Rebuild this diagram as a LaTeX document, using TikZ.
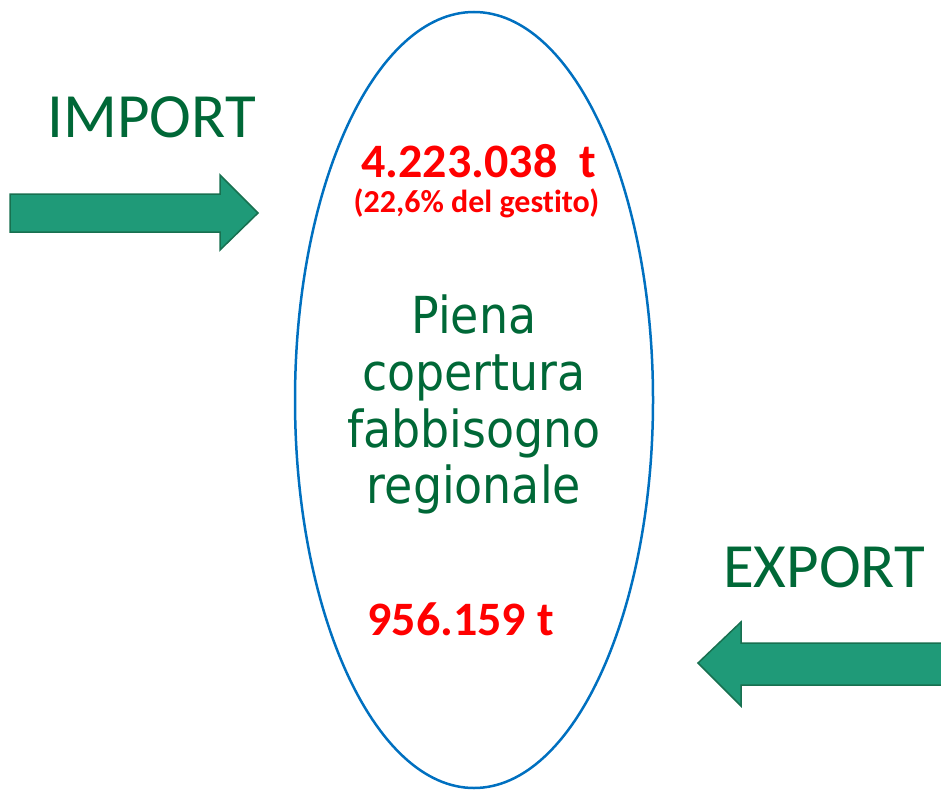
\documentclass[tikz,border=0pt]{standalone}
\usepackage{fontspec}
\setmainfont[Ligatures=NoCommon]{Carlito}
\newfontfamily\coverfont{DejaVu Sans Condensed}
\definecolor{flowgreen}{RGB}{31,154,120}
\definecolor{flowedge}{RGB}{24,112,80}
\definecolor{labelgreen}{RGB}{0,104,55}
\definecolor{ovalblue}{RGB}{0,112,192}
\tikzset{
  flowarrow/.style={fill=flowgreen,draw=flowedge,line width=1.5pt,line join=miter},
  flowlabel/.style={anchor=base,inner sep=0pt,text=labelgreen,font=\fontsize{63}{63}\selectfont},
  amount/.style={anchor=base,inner sep=0pt,text=red,font=\bfseries\fontsize{48}{48}\selectfont},
  share/.style={anchor=base,inner sep=0pt,text=red,font=\bfseries\fontsize{32}{32}\selectfont},
  coverline/.style={anchor=base,inner sep=0pt,text=labelgreen,font=\coverfont\fontsize{51}{51}\selectfont}
}
\begin{document}
\begin{tikzpicture}[x=1pt,y=-1pt]
\useasboundingbox (0,0) rectangle (941,789);
% oval
\draw[ovalblue,line width=2.5pt] (474,400) ellipse [x radius=179,y radius=388];
% import arrow
\draw[flowarrow] (10,194) -- (220,194) -- (220,175) -- (258,213) -- (220,250) -- (220,232) -- (10,232) -- cycle;
% export arrow
\draw[flowarrow] (942,643) -- (741,643) -- (741,622) -- (698,663) -- (741,706) -- (741,685) -- (942,685);
\node[flowlabel] (import) at (151.5,137) {IMPORT};
\node[flowlabel] (export) at (824,587) {EXPORT};
\node[amount] (importamount) at (478.5,177) {4.223.038~~t};
\node[share] (importshare) at (476.5,212) {(22,6\% del gestito)};
\node[coverline] (piena) at (474,333) {Piena};
\node[coverline] (copertura) at (474,390) {copertura};
\node[coverline] (fabbisogno) at (474,447) {fabbisogno};
\node[coverline] (regionale) at (474,503) {regionale};
\node[amount] (exportamount) at (460.5,635) {956.159 t};
\end{tikzpicture}
\end{document}
